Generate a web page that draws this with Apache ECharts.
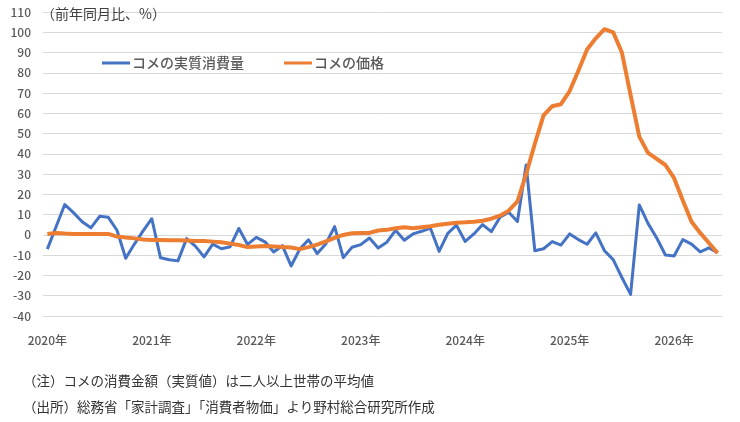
<!DOCTYPE html>
<html>
<head>
    <meta charset="utf-8">
    <script type="text/javascript" src="https://cdn.jsdelivr.net/npm/echarts@6/dist/echarts.min.js"></script>
</head>
<body style="margin:0; background-color:#ffffff">
<div id="main" style="width:740px; height:422px;"></div>
<script type="text/javascript">
    // 2020年1月 ～ 2026年6月（月次）
    var years  = [2020, 2021, 2022, 2023, 2024, 2025, 2026];
    var months = [];
    years.forEach(function(y) {
        for (var m = 1; m <= 12; m++) {
            if (y === 2026 && m > 6) break;
            months.push(y + '/' + m);
        }
    });

    // コメの実質消費量（前年同月比、%）
    var riceConsumption = [
        -7, 4, 15, 11, 6.5, 3.5, 9.2, 8.7, 2.3, -11.5, -4.5, 2,
        8, -11.3, -12.2, -12.8, -1.8, -5.5, -10.8, -4.5, -6.8, -5.8, 3.2, -4.7,
        -1.2, -3.4, -8.4, -5.3, -15.3, -7, -2.4, -9.2, -4.3, 4.1, -11.2, -6.1,
        -4.8, -1.5, -6.4, -3.6, 2.3, -2.6, 0.5, 1.8, 3.4, -8.1, 0.8, 4.8,
        -3.2, 0.5, 5.1, 1.6, 8.7, 11.2, 6.6, 34.5, -7.8, -6.8, -3.3, -5,
        0.5, -2.3, -4.6, 1, -7.8, -12.2, -21, -29.3, 14.8, 5.7, -1.5, -9.9,
        -10.4, -2.3, -4.5, -8.4, -6.4, -8.8
    ];

    // コメの価格（前年同月比、%）
    var ricePrice = [
        0.5, 1, 0.7, 0.5, 0.5, 0.5, 0.5, 0.5, -0.8, -1.3, -1.7, -2.2,
        -2.5, -2.5, -2.6, -2.6, -2.8, -3, -3, -3.3, -3.6, -4.3, -5, -6,
        -5.7, -5.5, -5.7, -6, -6.2, -7, -6, -4.8, -3.2, -1.5, 0, 0.8,
        1, 1, 2.2, 2.5, 3.3, 3.8, 3.3, 3.8, 4.3, 5, 5.5, 6,
        6.2, 6.5, 7, 8, 9.5, 12, 16.5, 30, 45, 59, 63.5, 64.5,
        71, 81, 91.5, 97, 101.5, 100, 90, 69, 48.5, 40.5, 37.5, 34.5,
        28, 17, 6.5, 1, -4, -9
    ];

    var yTicks = { min: -40, max: 110, step: 10 };

    var jpFont = '"Noto Sans CJK JP", "Noto Sans", sans-serif';

    var myChart = echarts.init(document.getElementById('main'));
    var option = {
        animation: false,
        textStyle: { fontFamily: jpFont },
        title: [{
            text: '（前年同月比、%）',
            left: 36,
            top: 2,
            textStyle: { fontSize: 14, fontWeight: 'normal', color: '#404040', fontFamily: jpFont }
        }, {
            text: '（注）コメの消費金額（実質値）は二人以上世帯の平均値',
            left: 18,
            top: 369,
            textStyle: { fontSize: 13.5, fontWeight: 'normal', color: '#333333', fontFamily: jpFont }
        }, {
            text: '（出所）総務省「家計調査」「消費者物価」より野村総合研究所作成',
            left: 18,
            top: 395,
            textStyle: { fontSize: 13.5, fontWeight: 'normal', color: '#333333', fontFamily: jpFont }
        }],
        legend: {
            left: 97,
            top: 51,
            itemWidth: 28,
            itemHeight: 3,
            itemGap: 40,
            textStyle: { fontSize: 14, color: '#595959', fontWeight: 500, fontFamily: jpFont, padding: [0, 0, 0, -3] },
            data: [
                { name: 'コメの実質消費量', icon: 'rect' },
                { name: 'コメの価格', icon: 'rect' }
            ]
        },
        grid: { left: 43, right: 18, top: 12, bottom: 106, containLabel: false },
        xAxis: {
            type: 'category',
            data: months,
            boundaryGap: true,
            axisLine: { show: false },
            axisTick: { show: false },
            axisLabel: {
                interval: function(i) { return i % 12 === 0; },
                formatter: function(v) { return v.split('/')[0] + '年'; },
                margin: 18,
                fontSize: 12,
                color: '#595959',
                fontWeight: 500,
                fontFamily: jpFont
            },
            splitLine: { show: false }
        },
        yAxis: {
            type: 'value',
            min: yTicks.min,
            max: yTicks.max,
            interval: yTicks.step,
            axisLine: { show: false },
            axisTick: { show: false },
            axisLabel: { fontSize: 12, color: '#595959', margin: 12, fontWeight: 500, fontFamily: jpFont },
            splitLine: { lineStyle: { color: '#d9d9d9', width: 1 } }
        },
        series: [{
            name: 'コメの実質消費量',
            type: 'line',
            data: riceConsumption,
            symbol: 'none',
            color: '#4472C4',
            lineStyle: { width: 3, color: '#4472C4', join: 'round' }
        }, {
            name: 'コメの価格',
            type: 'line',
            data: ricePrice,
            symbol: 'none',
            color: '#ED7D31',
            lineStyle: { width: 4, color: '#ED7D31', join: 'round' }
        }]
    };
    myChart.setOption(option);
</script>
</body>
</html>
